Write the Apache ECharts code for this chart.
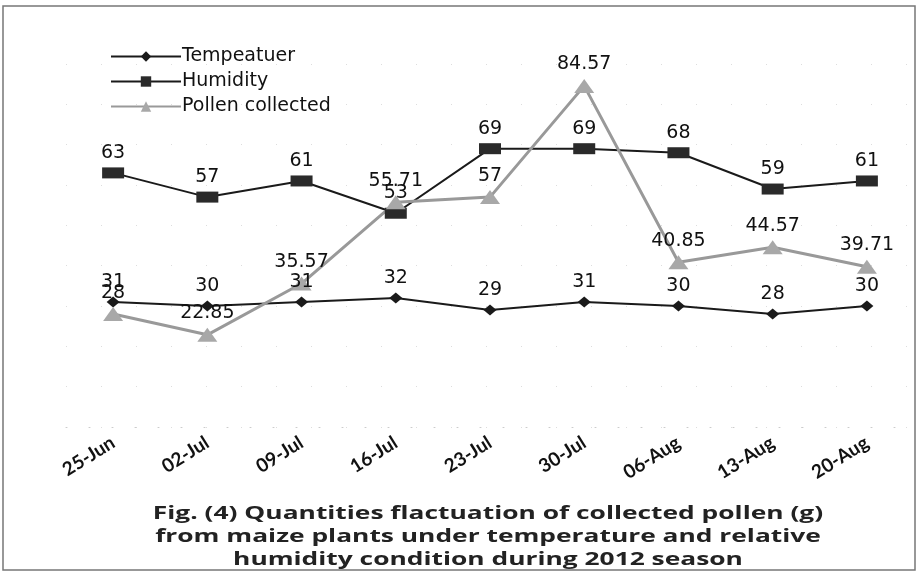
<!DOCTYPE html>
<html>
<head>
<meta charset="utf-8">
<script src="https://cdn.jsdelivr.net/npm/echarts@6/dist/echarts.min.js"></script>
<style>
  html, body { margin: 0; padding: 0; background: #fff; }
  #main { width: 921px; height: 576px; }
</style>
</head>
<body>
<div id="main"></div>
<script>
// weekly dates
var categories = ['25-Jun', '02-Jul', '09-Jul', '16-Jul', '23-Jul', '30-Jul', '06-Aug', '13-Aug', '20-Aug'];
var temperature = [31, 30, 31, 32, 29, 31, 30, 28, 30];
var humidity = [63, 57, 61, 53, 69, 69, 68, 59, 61];
var pollen = [28, 22.85, 35.57, 55.71, 57, 84.57, 40.85, 44.57, 39.71];
var caption = 'Fig. (4) Quantities flactuation of collected pollen (g)\nfrom maize plants under temperature and relative\nhumidity condition during 2012 season';

var chart = echarts.init(document.getElementById('main'));

var labelFont = {
    show: true,
    position: 'top',
    distance: 5,
    color: '#111',
    fontFamily: 'DejaVu Sans',
    fontSize: 19
};

var option = {
    backgroundColor: '#fff',
    animation: false,
    legend: {
        orient: 'vertical',
        left: 105,
        top: 42,
        itemWidth: 70,
        itemHeight: 13,
        itemGap: 6,
        textStyle: {
            fontFamily: 'DejaVu Sans',
            fontSize: 19,
            color: '#111',
            padding: [0, 0, 0, -4]
        },
        data: ['Tempeatuer', 'Humidity', 'Pollen collected']
    },
    grid: {
        left: 66,
        right: 7,
        top: 64,
        bottom: 149
    },
    xAxis: {
        type: 'category',
        data: categories,
        axisLine: { lineStyle: { color: '#ccc', type: [1, 22], width: 1 } },
        axisTick: { show: false },
        axisLabel: {
            rotate: 32,
            margin: 14,
            color: '#111',
            fontFamily: 'Lato',
            fontWeight: 'bold',
            fontSize: 19
        }
    },
    yAxis: {
        type: 'value',
        min: 0,
        max: 90,
        interval: 10,
        axisLine: { show: false },
        axisTick: { show: false },
        axisLabel: { show: false },
        splitLine: { lineStyle: { color: '#ddd', type: [1, 34], width: 1 } }
    },
    graphic: [{
        type: 'rect',
        shape: { x: 3, y: 6, width: 912, height: 564 },
        style: { fill: 'none', stroke: '#777', lineWidth: 1.5 },
        silent: true
    }, {
        type: 'text',
        x: 488,
        y: 503,
        scaleX: 1.55,
        style: {
            text: caption,
            textAlign: 'center',
            fontFamily: 'Open Sans',
            fontWeight: 'bold',
            fontSize: 17,
            lineHeight: 23,
            fill: '#222'
        },
        silent: true
    }],
    series: [{
        name: 'Tempeatuer',
        type: 'line',
        data: temperature,
        symbol: 'diamond',
        symbolSize: [13, 11],
        lineStyle: { color: '#1a1a1a', width: 2 },
        itemStyle: { color: '#1a1a1a' },
        label: labelFont
    }, {
        name: 'Humidity',
        type: 'line',
        data: humidity,
        symbol: 'rect',
        symbolSize: [22, 11],
        lineStyle: { color: '#1a1a1a', width: 2 },
        itemStyle: { color: '#2a2a2a' },
        label: labelFont
    }, {
        name: 'Pollen collected',
        type: 'line',
        data: pollen,
        symbol: 'triangle',
        symbolSize: [20, 14],
        lineStyle: { color: '#999', width: 3 },
        itemStyle: { color: '#a8a8a8' },
        label: labelFont
    }]
};

chart.setOption(option);
window.onresize = chart.resize;
</script>
</body>
</html>
